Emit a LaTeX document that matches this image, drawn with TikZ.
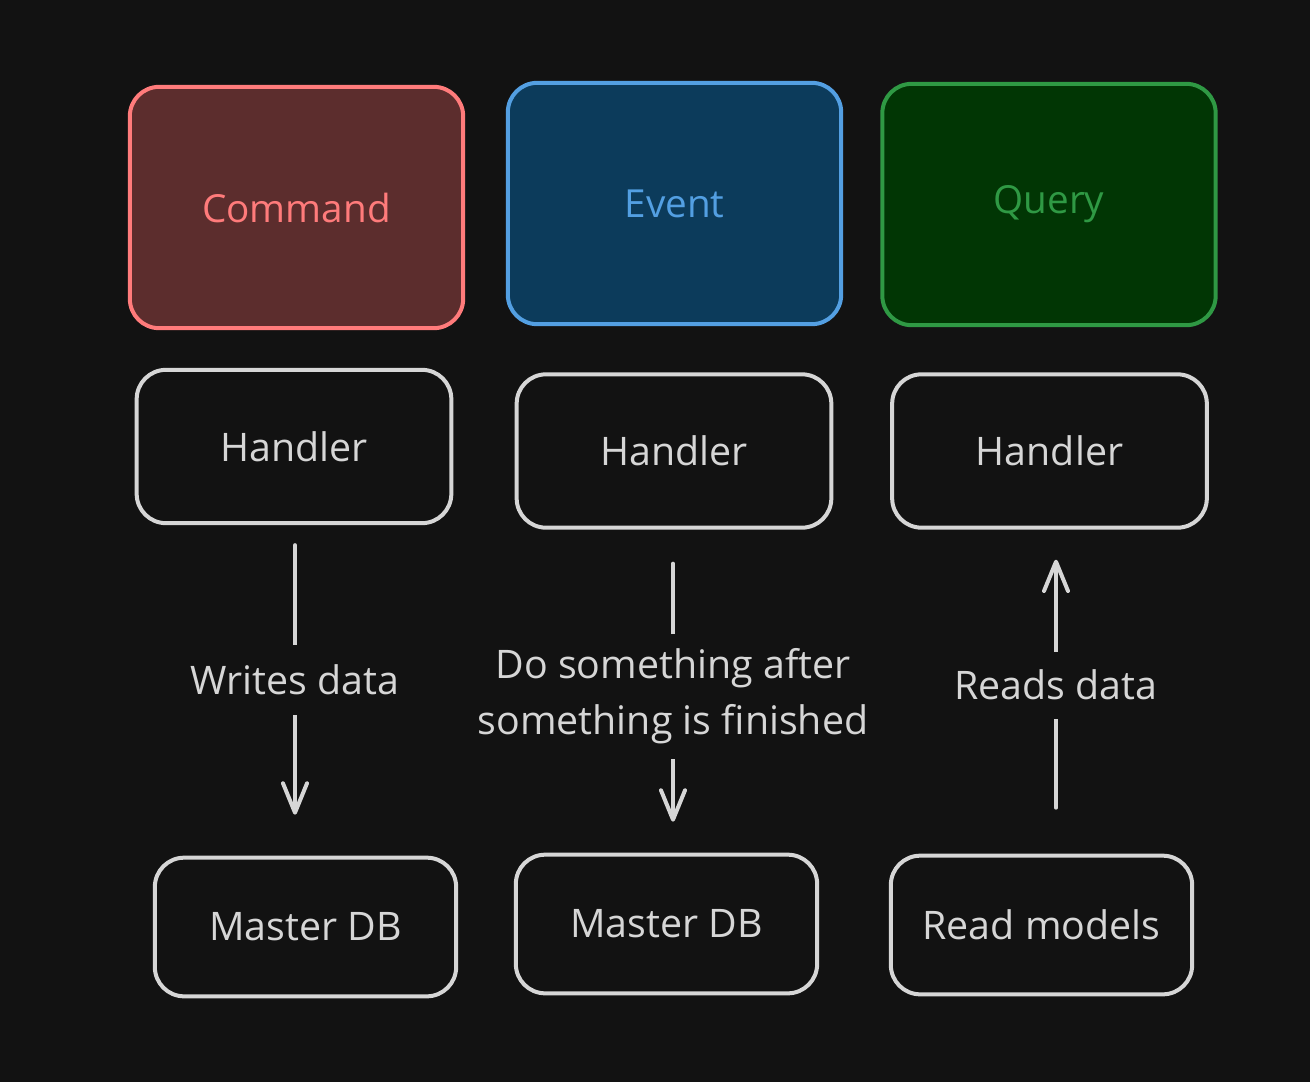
\documentclass[tikz,border=0pt]{standalone}
\usepackage{fontspec}
\setmainfont{Open Sans}
\usetikzlibrary{arrows.meta,calc}
\definecolor{bg}{HTML}{121212}
\definecolor{ink}{HTML}{D6D6D6}
\definecolor{redS}{HTML}{FF7B7B}
\definecolor{redF}{HTML}{5C2D2D}
\definecolor{bluS}{HTML}{539FE2}
\definecolor{bluF}{HTML}{0C3B5B}
\definecolor{grnS}{HTML}{2F9944}
\definecolor{grnF}{HTML}{013604}
\tikzset{
  box/.style={draw=ink, line width=3pt, rounded corners=22pt, inner sep=0pt, text=ink,
    font=\fontsize{29.5pt}{34pt}\selectfont},
  bigbox/.style={box, minimum width=250pt, minimum height=181pt, font=\fontsize{29pt}{34pt}\selectfont},
  hbox/.style={box, minimum width=236pt, minimum height=115pt},
  dbbox/.style={box, minimum width=226pt, minimum height=104pt},
  arr/.style={draw=ink, line width=3pt, line cap=round, -{Straight Barb[length=22pt,width=18pt,round]}},
  lbl/.style={fill=bg, text=ink, inner sep=0pt, font=\fontsize{29.5pt}{42pt}\selectfont},
}
\begin{document}
\begin{tikzpicture}[x=0.75pt,y=-0.75pt]
\fill[bg] (0,0) rectangle (1310,1082);
\useasboundingbox (0,0) rectangle (1310,1082);
% top category boxes
\node[bigbox, draw=redS, fill=redF, text=redS] (cmd) at (296.5,207.5) {Command};
\node[bigbox, draw=bluS, fill=bluF, text=bluS] (evt) at (674.5,203.5) {Event};
\node[bigbox, draw=grnS, fill=grnF, text=grnS] (qry) at (1049,204.5) {Query};
% handlers
\node[hbox] (h1) at (294,446.5) {Handler};
\node[hbox] (h2) at (674,451) {Handler};
\node[hbox] (h3) at (1049.5,451) {Handler};
% stores
\node[dbbox] (m1) at (305.5,927) {Master DB};
\node[dbbox] (m2) at (666.5,924) {Master DB};
\node[dbbox] (rm) at (1041.5,925) {Read models};
% connectors
\draw[arr, shorten <=15pt, shorten >=30.75pt]
  ($(h1.south)+(1,0)$) -- ($(h1.south |- m1.north)+(1,0)$)
  node[lbl, pos=0.468, minimum height=52pt] (l1) {Writes data};
\draw[arr, shorten <=25.5pt, shorten >=23.25pt]
  ($(h2.south)+(-1,0)$) -- ($(h2.south |- m2.north)+(-1,0)$)
  node[lbl, pos=0.517, minimum height=94pt, align=center] (l2) {Do something after\\something is finished};
\draw[arr, shorten <=34.5pt, shorten >=22.5pt]
  ($(h3.south |- rm.north)+(6.5,0)$) -- ($(h3.south)+(6.5,0)$)
  node[lbl, pos=0.52, minimum height=50pt] (l3) {Reads data};
\end{tikzpicture}
\end{document}
